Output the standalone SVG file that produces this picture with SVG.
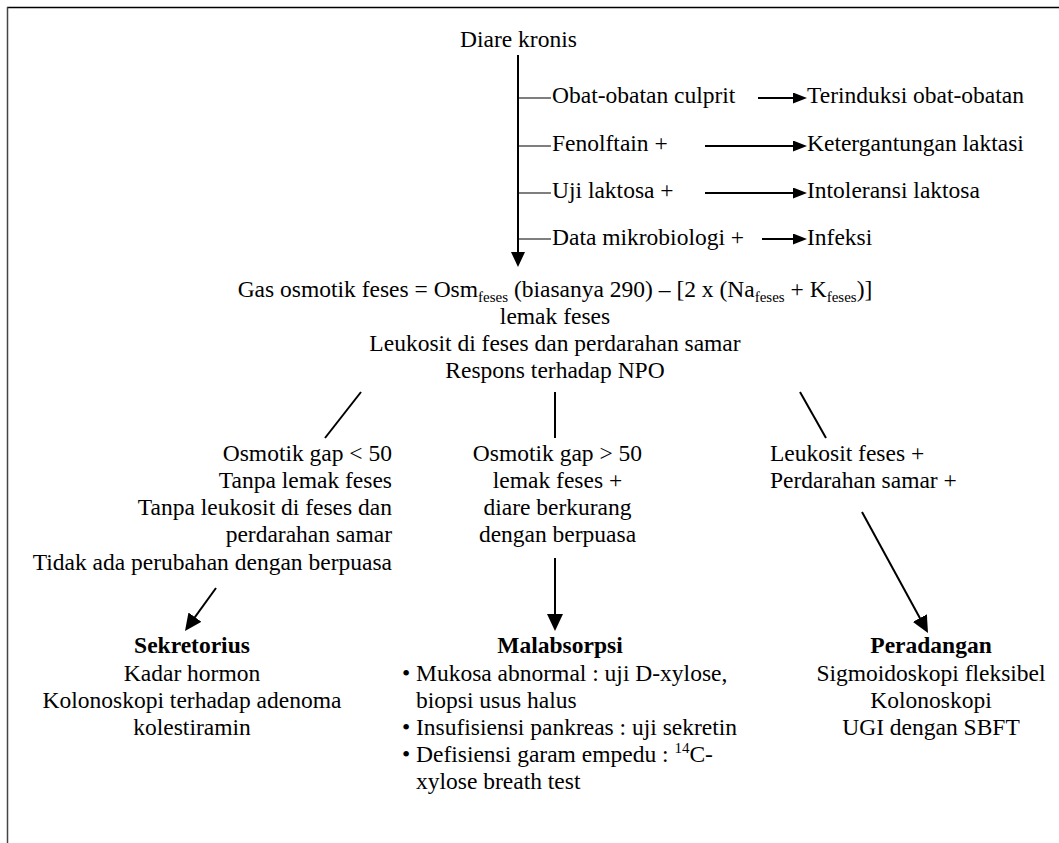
<svg xmlns="http://www.w3.org/2000/svg" width="1059" height="843" viewBox="0 0 1059 843">
<defs>
<style>
text{font-family:"Liberation Serif","Times New Roman",serif;font-size:23.5px;fill:#000}
.b{font-weight:bold}
.m{text-anchor:middle}
.e{text-anchor:end}
.ln{stroke:#000;stroke-width:2;fill:none}
.tk{stroke:#000;stroke-width:1.2;fill:none}
</style>
<marker id="aS" viewBox="0 0 14 11" refX="10" refY="5.5" markerWidth="14" markerHeight="11" markerUnits="userSpaceOnUse" orient="auto"><path d="M0,0L14,5.5L0,11z" fill="#000"/></marker>
<marker id="aM" viewBox="0 0 15 14" refX="11" refY="7" markerWidth="15" markerHeight="14" markerUnits="userSpaceOnUse" orient="auto"><path d="M0,0L15,7L0,14z" fill="#000"/></marker>
<marker id="aL" viewBox="0 0 17 16" refX="12" refY="8" markerWidth="17" markerHeight="16" markerUnits="userSpaceOnUse" orient="auto"><path d="M0,0L17,8L0,16z" fill="#000"/></marker>
</defs>
<rect width="1059" height="843" fill="#fff"/>
<g id="frame">
<line x1="7" y1="7.5" x2="1059" y2="7.5" stroke="#000" stroke-width="1.5"/>
<line x1="7.5" y1="7" x2="7.5" y2="843" stroke="#444" stroke-width="1.5"/>
</g>
<g id="connectors">
<line class="ln" x1="518" y1="55" x2="518" y2="263" marker-end="url(#aM)"/>
<line class="tk" x1="518" y1="98" x2="551" y2="98"/>
<line class="tk" x1="518" y1="146" x2="551" y2="146"/>
<line class="tk" x1="518" y1="193" x2="551" y2="193"/>
<line class="tk" x1="518" y1="239" x2="551" y2="239"/>
<line class="ln" x1="758" y1="98" x2="803" y2="98" marker-end="url(#aS)"/>
<line class="ln" x1="705" y1="146" x2="803" y2="146" marker-end="url(#aS)"/>
<line class="ln" x1="705" y1="193" x2="803" y2="193" marker-end="url(#aS)"/>
<line class="ln" x1="762" y1="239" x2="803" y2="239" marker-end="url(#aS)"/>
<line class="ln" x1="361" y1="392" x2="325" y2="438"/>
<line class="ln" x1="555" y1="392" x2="555" y2="438"/>
<line class="ln" x1="800" y1="392" x2="826" y2="438"/>
<line class="ln" x1="216" y1="588" x2="187.9" y2="626.9" marker-end="url(#aL)"/>
<line class="ln" x1="555" y1="558" x2="555" y2="626" marker-end="url(#aL)"/>
<line class="ln" x1="862" y1="512" x2="925.6" y2="628.6" marker-end="url(#aL)"/>
</g>
<g id="diare-kronis"><text x="460" y="47">Diare kronis</text></g>
<g id="obat"><text x="552" y="103">Obat-obatan culprit</text></g>
<g id="fenolftain"><text x="552" y="151">Fenolftain +</text></g>
<g id="uji-laktosa"><text x="552" y="198">Uji laktosa +</text></g>
<g id="data-mikrobiologi"><text x="552" y="245">Data mikrobiologi +</text></g>
<g id="terinduksi"><text x="807" y="103">Terinduksi obat-obatan</text></g>
<g id="ketergantungan"><text x="807" y="151">Ketergantungan laktasi</text></g>
<g id="intoleransi"><text x="807" y="198">Intoleransi laktosa</text></g>
<g id="infeksi"><text x="807" y="245">Infeksi</text></g>
<g id="tests">
<text class="m" x="555" y="297">Gas osmotik feses = Osm<tspan font-size="15" dy="5">feses</tspan><tspan dy="-5"> (biasanya 290) – [2 x (Na</tspan><tspan font-size="15" dy="5">feses</tspan><tspan dy="-5"> + K</tspan><tspan font-size="15" dy="5">feses</tspan><tspan dy="-5">)]</tspan></text>
<text class="m" x="555" y="324">lemak feses</text>
<text class="m" x="555" y="351">Leukosit di feses dan perdarahan samar</text>
<text class="m" x="555" y="378">Respons terhadap NPO</text>
</g>
<g id="cond-sekretorius">
<text class="e" x="392" y="461">Osmotik gap &lt; 50</text>
<text class="e" x="392" y="488">Tanpa lemak feses</text>
<text class="e" x="392" y="515">Tanpa leukosit di feses dan</text>
<text class="e" x="392" y="542">perdarahan samar</text>
<text class="e" x="392" y="570">Tidak ada perubahan dengan berpuasa</text>
</g>
<g id="cond-malabsorpsi">
<text class="m" x="557.5" y="461">Osmotik gap &gt; 50</text>
<text class="m" x="557.5" y="488">lemak feses +</text>
<text class="m" x="557.5" y="515">diare berkurang</text>
<text class="m" x="557.5" y="542">dengan berpuasa</text>
</g>
<g id="cond-peradangan">
<text x="770" y="461">Leukosit feses +</text>
<text x="770" y="488">Perdarahan samar +</text>
</g>
<g id="sekretorius">
<text class="m b" x="192" y="653">Sekretorius</text>
<text class="m" x="192" y="681">Kadar hormon</text>
<text class="m" x="192" y="708">Kolonoskopi terhadap adenoma</text>
<text class="m" x="192" y="735">kolestiramin</text>
</g>
<g id="malabsorpsi">
<text class="m b" x="560" y="653">Malabsorpsi</text>
<text x="402" y="681">•</text><text x="416" y="681">Mukosa abnormal : uji D-xylose,</text>
<text x="416" y="708">biopsi usus halus</text>
<text x="402" y="735">•</text><text x="416" y="735">Insufisiensi pankreas : uji sekretin</text>
<text x="402" y="762">•</text><text x="416" y="762">Defisiensi garam empedu : <tspan font-size="15" dy="-9">14</tspan><tspan dy="9">C-</tspan></text>
<text x="416" y="789">xylose breath test</text>
</g>
<g id="peradangan">
<text class="m b" x="931" y="653">Peradangan</text>
<text class="m" x="931" y="681">Sigmoidoskopi fleksibel</text>
<text class="m" x="931" y="708">Kolonoskopi</text>
<text class="m" x="931" y="735">UGI dengan SBFT</text>
</g>
</svg>
